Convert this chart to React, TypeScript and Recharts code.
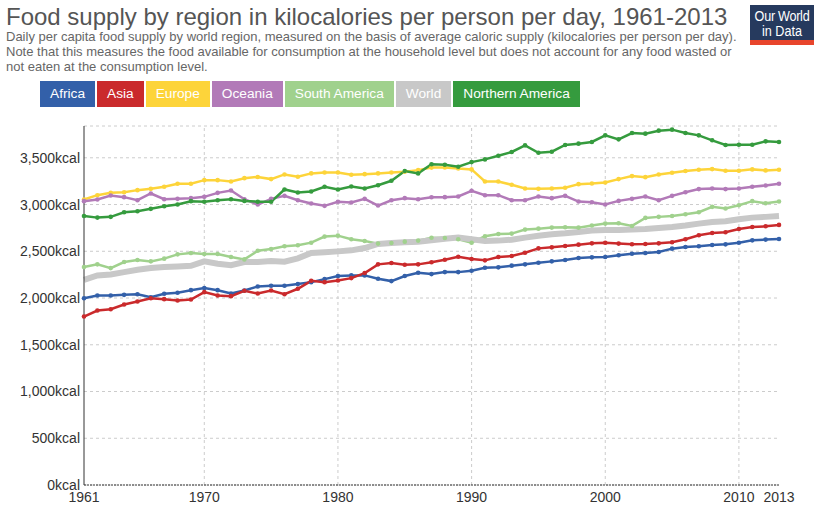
import { LineChart, Line, XAxis, YAxis, CartesianGrid, ReferenceLine } from 'recharts';

const years = Array.from({ length: 53 }, (_, i) => 1961 + i);

const africa = [
  1998, 2027, 2027, 2034, 2041, 2009, 2045, 2056, 2084, 2106, 2084, 2048, 2081,
  2124, 2131, 2131, 2149, 2170, 2202, 2235, 2242, 2242, 2206, 2181, 2235, 2270,
  2256, 2277, 2277, 2292, 2324, 2328, 2346, 2360, 2378, 2392, 2406, 2428, 2435,
  2439, 2457, 2474, 2481, 2492, 2528, 2546, 2553, 2567, 2574, 2592, 2617, 2625, 2632,
];
const asia = [
  1802, 1866, 1880, 1930, 1963, 1998, 1988, 1973, 1984, 2063, 2027, 2020, 2077,
  2048, 2081, 2041, 2099, 2184, 2170, 2188, 2213, 2267, 2360, 2374, 2356, 2360,
  2383, 2410, 2442, 2417, 2403, 2438, 2449, 2485, 2531, 2542, 2556, 2571, 2585,
  2592, 2582, 2575, 2578, 2585, 2596, 2628, 2671, 2696, 2703, 2739, 2760, 2767, 2782,
];
const europe = [
  3054, 3100, 3125, 3132, 3154, 3168, 3190, 3222, 3222, 3261, 3261, 3247, 3282,
  3295, 3272, 3322, 3297, 3333, 3343, 3343, 3318, 3325, 3333, 3343, 3350, 3368,
  3395, 3397, 3386, 3376, 3247, 3247, 3211, 3172, 3168, 3172, 3179, 3218, 3225,
  3236, 3272, 3304, 3293, 3322, 3340, 3358, 3372, 3379, 3361, 3361, 3376, 3365, 3372,
];
const oceania = [
  3036, 3054, 3097, 3079, 3046, 3118, 3057, 3061, 3068, 3082, 3125, 3150, 3057,
  3000, 3061, 3093, 3046, 3011, 2986, 3029, 3021, 3061, 2989, 3046, 3068, 3057,
  3078, 3079, 3086, 3147, 3100, 3100, 3046, 3046, 3086, 3068, 3093, 3032, 3025,
  3000, 3039, 3061, 3086, 3046, 3093, 3132, 3165, 3172, 3165, 3172, 3190, 3204, 3222,
];
const southAmerica = [
  2331, 2360, 2320, 2385, 2406, 2392, 2421, 2467, 2481, 2471, 2471, 2438, 2413,
  2505, 2524, 2553, 2564, 2592, 2657, 2667, 2628, 2610, 2582, 2589, 2603, 2614,
  2644, 2642, 2628, 2592, 2660, 2685, 2689, 2732, 2742, 2753, 2757, 2753, 2775,
  2796, 2800, 2771, 2857, 2868, 2878, 2896, 2918, 2975, 2957, 2993, 3036, 3014, 3032,
];
const world = [
  2195, 2242, 2252, 2277, 2302, 2320, 2331, 2338, 2345, 2392, 2367, 2352, 2385,
  2385, 2396, 2388, 2424, 2481, 2489, 2499, 2510, 2535, 2578, 2589, 2596, 2603,
  2617, 2635, 2646, 2628, 2610, 2614, 2624, 2646, 2667, 2682, 2692, 2707, 2721,
  2728, 2728, 2732, 2739, 2750, 2760, 2775, 2796, 2814, 2821, 2843, 2860, 2868, 2878,
];
const northernAmerica = [
  2878, 2860, 2868, 2918, 2928, 2954, 2982, 3000, 3036, 3029, 3046, 3057, 3039,
  3030, 3029, 3161, 3129, 3140, 3190, 3161, 3193, 3172, 3207, 3254, 3358, 3333,
  3431, 3426, 3404, 3454, 3483, 3522, 3562, 3633, 3554, 3565, 3637, 3651, 3669,
  3740, 3697, 3765, 3758, 3790, 3801, 3765, 3740, 3687, 3637, 3640, 3640, 3676, 3669,
];

const yTicks = [0, 500, 1000, 1500, 2000, 2500, 3000, 3500];
const xTicks = [1961, 1970, 1980, 1990, 2000, 2010, 2013];
const decades = [1970, 1980, 1990, 2000, 2010];

const series = [
  { key: 'Africa', values: africa, color: '#3360a9' },
  { key: 'Asia', values: asia, color: '#ca2a2c' },
  { key: 'Europe', values: europe, color: '#fdd43a' },
  { key: 'Oceania', values: oceania, color: '#b27ab8' },
  { key: 'South America', values: southAmerica, color: '#a0d18d' },
  { key: 'World', values: world, color: '#c8c8c8' },
  { key: 'Northern America', values: northernAmerica, color: '#359b3e' },
];

const data = years.map((year, i) => {
  const row: Record<string, number> = { year };
  series.forEach(s => {
    row[s.key] = s.values[i];
  });
  return row;
});

const font = '"Liberation Sans", Arial, sans-serif';

export default function App() {
  return (
    <div style={{ position: 'absolute', left: 0, top: 0, width: 820, height: 510, background: '#fff', fontFamily: font }}>
      <div style={{ position: 'absolute', left: 6, top: 3, fontSize: 24, lineHeight: '28px', color: '#555', whiteSpace: 'nowrap' }}>
        Food supply by region in kilocalories per person per day, 1961-2013
      </div>
      <div style={{ position: 'absolute', left: 6, top: 29, fontSize: 13, lineHeight: '15px', color: '#666', whiteSpace: 'nowrap' }}>
        Daily per capita food supply by world region, measured on the basis of average caloric supply (kilocalories per person per day).
        <br />
        Note that this measures the food available for consumption at the household level but does not account for any food wasted or
        <br />
        not eaten at the consumption level.
      </div>

      {/* logo */}
      <div style={{ position: 'absolute', left: 750, top: 5, width: 64, height: 40, background: '#263a5e', color: '#fff', textAlign: 'center' }}>
        <div style={{ fontSize: 14, lineHeight: '15px', paddingTop: 4, transform: 'scaleX(0.9)', whiteSpace: 'nowrap', letterSpacing: -0.3 }}>Our World</div>
        <div style={{ fontSize: 14, lineHeight: '15px', transform: 'scaleX(0.9)', whiteSpace: 'nowrap' }}>in Data</div>
        <div style={{ position: 'absolute', left: 0, bottom: 0, width: 64, height: 5, background: '#e8452c' }} />
      </div>

      {/* legend */}
      <div style={{ position: 'absolute', left: 40, top: 81, display: 'flex' }}>
        {series.map(s => (
          <div
            key={s.key}
            style={{ background: s.color, color: '#fff', fontSize: 13.7, lineHeight: '26px', height: 26, padding: '0 10px', marginRight: 2, whiteSpace: 'nowrap' }}
          >
            {s.key}
          </div>
        ))}
      </div>

      <div style={{ position: 'absolute', left: 0, top: 110 }}>
        <LineChart width={820} height={400} data={data} margin={{ top: 16, right: 41, bottom: 0, left: 0 }}>
          <CartesianGrid vertical={false} stroke="#ccc" strokeDasharray="3 3" />
          {decades.map(d => (
            <ReferenceLine key={d} x={d} stroke="#ccc" strokeDasharray="3 3" />
          ))}
          <XAxis
            dataKey="year"
            type="number"
            domain={[1961, 2013]}
            ticks={xTicks}
            height={25}
            tickLine={false}
            tickSize={4}
            tickMargin={3}
            axisLine={{ stroke: '#333', strokeDasharray: '2 1' }}
            tick={{ fontSize: 14, fill: '#333', fontFamily: font }}
            interval={0}
          />
          <YAxis
            type="number"
            domain={[0, 3840]}
            ticks={yTicks}
            width={84}
            tickLine={false}
            tickSize={2}
            tickMargin={2}
            axisLine={{ stroke: '#333' }}
            tick={{ fontSize: 14, fill: '#333', fontFamily: font }}
            tickFormatter={(v: number) => `${v.toLocaleString('en-US')}kcal`}
            allowDataOverflow
          />
          {series.map(s =>
            s.key === 'World' ? (
              <Line
                key={s.key}
                dataKey={s.key}
                stroke={s.color}
                strokeWidth={6}
                dot={false}
                isAnimationActive={false}
              />
            ) : (
              <Line
                key={s.key}
                dataKey={s.key}
                stroke={s.color}
                strokeWidth={2.5}
                dot={{ r: 2.3, fill: s.color, stroke: s.color, strokeWidth: 0 }}
                isAnimationActive={false}
              />
            )
          )}
        </LineChart>
      </div>
    </div>
  );
}
